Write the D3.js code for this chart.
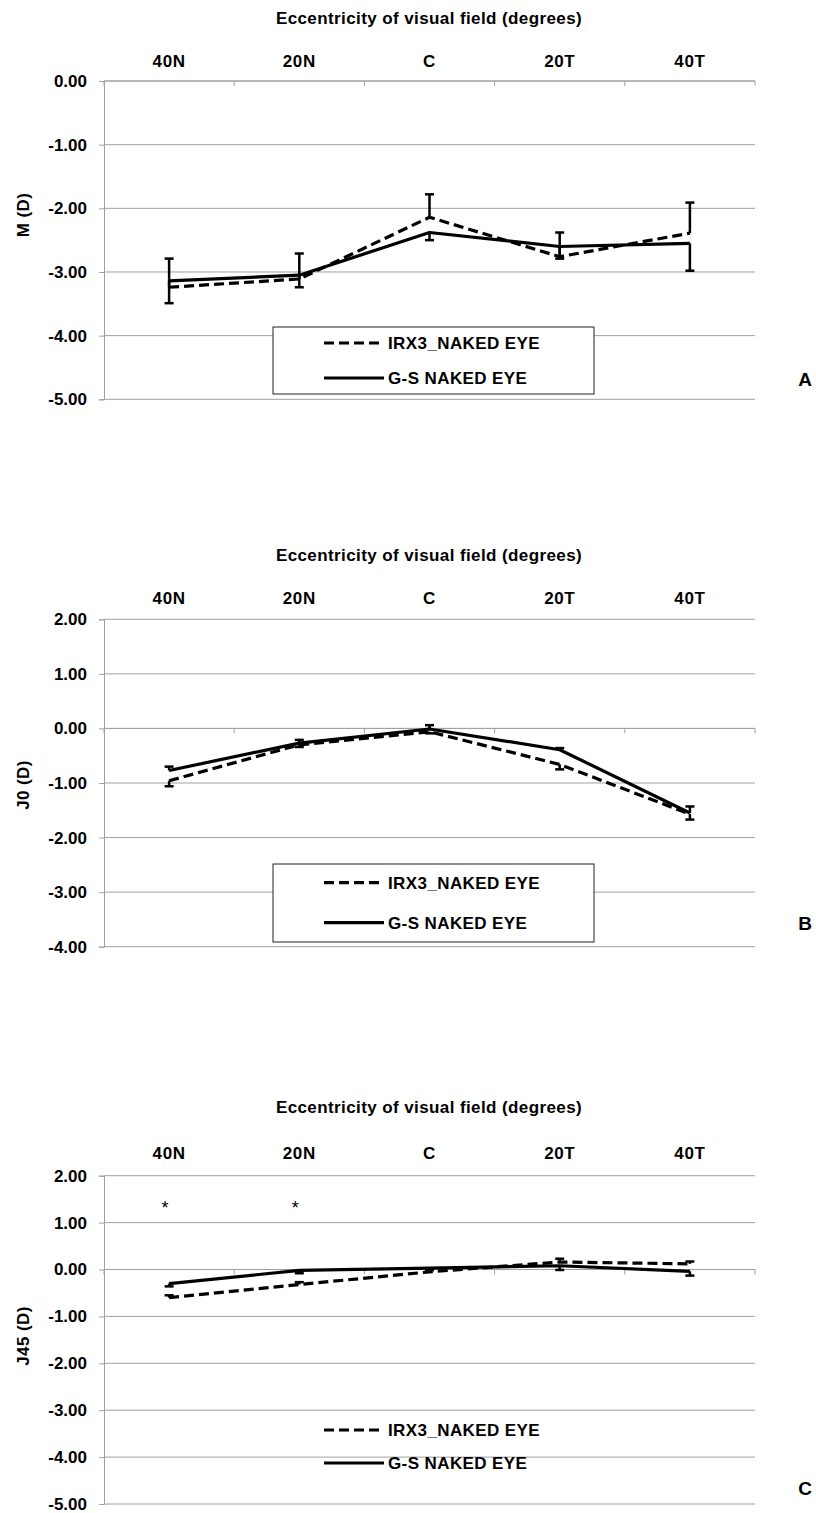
<!DOCTYPE html>
<html>
<head>
<meta charset="utf-8">
<script src="https://cdn.jsdelivr.net/npm/d3@7"></script>
<style>
  html, body { margin: 0; padding: 0; background: #fff; }
  svg text { font-family: "Liberation Sans", Arial, sans-serif; font-weight: bold; fill: #000; }
</style>
</head>
<body>
<svg id="chart" width="816" height="1513"></svg>
<script>
// Eccentricity positions across the visual field
const categories = ["40N", "20N", "C", "20T", "40T"];
const seriesNames = ["IRX3_NAKED EYE", "G-S NAKED EYE"];

// Panel A: spherical equivalent M (D)
const mIrx3 = [-3.24, -3.11, -2.14, -2.76, -2.39];
const mIrx3Err = [0.45, 0.40, 0.36, 0.38, 0.48];      // drawn upward
const mGs = [-3.14, -3.05, -2.38, -2.60, -2.55];
const mGsErr = [-0.35, -0.19, -0.12, -0.19, -0.43];   // drawn downward
const mTicks = [0, -1, -2, -3, -4, -5];

// Panel B: J0 (D)
const j0Irx3 = [-0.96, -0.30, -0.06, -0.66, -1.57];
const j0Irx3Err = [-0.10, -0.04, -0.03, -0.09, -0.10];
const j0Gs = [-0.77, -0.27, -0.01, -0.39, -1.55];
const j0GsErr = [0.07, 0.06, 0.07, 0.03, 0.12];
const j0Ticks = [2, 1, 0, -1, -2, -3, -4];

// Panel C: J45 (D)
const j45Irx3 = [-0.60, -0.32, -0.05, 0.16, 0.12];
const j45Irx3Err = [0.05, 0.05, 0.04, 0.07, 0.05];
const j45Gs = [-0.30, -0.02, 0.03, 0.08, -0.04];
const j45GsErr = [-0.06, -0.06, -0.04, -0.09, -0.09];
const j45Ticks = [2, 1, 0, -1, -2, -3, -4, -5];
const j45Marks = ["*", "*", "", "", ""];
const j45MarkValue = 1.18;

const svg = d3.select("#chart");
const X0 = 104, X1 = 755;
const GRID = "#a0a0a0";
const FONT = "Liberation Sans, Arial, sans-serif";

const x = d3.scaleBand().domain(categories).range([X0, X1]).padding(0);
const cx = c => x(c) + x.bandwidth() / 2;

const panels = [
  { letter: "A", yLabel: "M (D)", yLabelY: 215, ticks: mTicks, top: 81, bottom: 399.3,
    titleY: 18, catY: 61, letterY: 379, series: [[mIrx3, mIrx3Err], [mGs, mGsErr]],
    legend: { box: [273, 327, 321, 67], rows: [343, 378] } },
  { letter: "B", yLabel: "J0 (D)", yLabelY: 785, ticks: j0Ticks, top: 619.3, bottom: 946.7,
    titleY: 555, catY: 598, letterY: 923, series: [[j0Irx3, j0Irx3Err], [j0Gs, j0GsErr]],
    legend: { box: [273, 864, 321, 78], rows: [882.7, 922.7] } },
  { letter: "C", yLabel: "J45 (D)", yLabelY: 1336, ticks: j45Ticks, top: 1175.7, bottom: 1504,
    titleY: 1107, catY: 1153, letterY: 1488, series: [[j45Irx3, j45Irx3Err], [j45Gs, j45GsErr]],
    marks: j45Marks, markValue: j45MarkValue,
    legend: { box: null, rows: [1430, 1463] } }
];

const dashes = ["10,5", null];

panels.forEach(p => {
  const y = d3.scaleLinear()
    .domain([d3.min(p.ticks), d3.max(p.ticks)])
    .range([p.bottom, p.top]);
  const g = svg.append("g");

  // horizontal gridlines
  g.selectAll("line.grid").data(p.ticks).join("line")
    .attr("x1", X0).attr("x2", X1)
    .attr("y1", d => y(d)).attr("y2", d => y(d))
    .attr("stroke", GRID).attr("stroke-width", 1);

  // value axis
  const yAxis = d3.axisLeft(y).tickValues(p.ticks).tickSize(5).tickPadding(12)
    .tickFormat(d => d.toFixed(2));
  const ya = g.append("g").attr("transform", `translate(${X0},0)`).call(yAxis);
  ya.select(".domain").attr("stroke", GRID);
  ya.selectAll(".tick line").attr("stroke", GRID);
  ya.selectAll(".tick text").attr("font-size", 17)
    .style("font-family", FONT).style("font-weight", "bold");

  // category axis line at zero, tick marks at band edges
  const edges = categories.map(c => x(c)).concat([X1]);
  g.append("line").attr("x1", X0).attr("x2", X1).attr("y1", y(0)).attr("y2", y(0))
    .attr("stroke", GRID).attr("stroke-width", 1);
  g.selectAll("line.xtick").data(edges).join("line")
    .attr("x1", d => d).attr("x2", d => d)
    .attr("y1", y(0)).attr("y2", y(0) + 5)
    .attr("stroke", GRID).attr("stroke-width", 1);

  // category labels above the plot
  const xAxis = d3.axisTop(x).tickSize(0).tickPadding(0);
  const xa = g.append("g").attr("transform", `translate(0,${p.catY + 6})`).call(xAxis);
  xa.select(".domain").remove();
  xa.selectAll(".tick text").attr("font-size", 17).attr("dy", 0)
    .style("letter-spacing", "0.6px")
    .style("font-family", FONT).style("font-weight", "bold");

  // axis titles
  g.append("text").attr("x", 429).attr("y", p.titleY + 6).attr("text-anchor", "middle")
    .attr("font-size", 17).style("letter-spacing", "0.4px")
    .text("Eccentricity of visual field (degrees)");
  g.append("text").attr("transform", `translate(29,${p.yLabelY}) rotate(-90)`)
    .attr("text-anchor", "middle").attr("font-size", 17).style("letter-spacing", "0.4px")
    .text(p.yLabel);

  // panel letter
  g.append("text").attr("x", 805).attr("y", p.letterY + 7).attr("text-anchor", "middle")
    .attr("font-size", 19).text(p.letter);

  // series lines
  const line = d3.line().x((d, i) => cx(categories[i])).y(d => y(d));
  p.series.forEach(([vals, errs], si) => {
    g.append("path").datum(vals).attr("d", line)
      .attr("fill", "none").attr("stroke", "#000").attr("stroke-width", 3.2)
      .attr("stroke-linejoin", "round")
      .attr("stroke-dasharray", dashes[si]);

    // one-sided error bars with end caps
    const eb = g.append("g");
    vals.forEach((v, i) => {
      const xc = cx(categories[i]);
      eb.append("line").attr("x1", xc).attr("x2", xc)
        .attr("y1", y(v)).attr("y2", y(v + errs[i]))
        .attr("stroke", "#000").attr("stroke-width", 2.5);
      eb.append("line").attr("x1", xc - 4.5).attr("x2", xc + 4.5)
        .attr("y1", y(v + errs[i])).attr("y2", y(v + errs[i]))
        .attr("stroke", "#000").attr("stroke-width", 2.5);
    });
  });

  // significance markers
  if (p.marks) {
    g.selectAll("text.mark").data(p.marks).join("text")
      .attr("x", (d, i) => cx(categories[i]) - 4).attr("y", y(p.markValue))
      .attr("text-anchor", "middle").attr("font-size", 18).style("font-weight", "normal")
      .text(d => d);
  }

  // legend
  const lg = g.append("g");
  if (p.legend.box) {
    const [bx, by, bw, bh] = p.legend.box;
    lg.append("rect").attr("x", bx).attr("y", by).attr("width", bw).attr("height", bh)
      .attr("fill", "#fff").attr("stroke", "#222").attr("stroke-width", 1);
  }
  seriesNames.forEach((name, si) => {
    const ry = p.legend.rows[si];
    lg.append("line").attr("x1", 324).attr("x2", 384).attr("y1", ry).attr("y2", ry)
      .attr("stroke", "#000").attr("stroke-width", 3.2).attr("stroke-dasharray", dashes[si]);
    lg.append("text").attr("x", 388).attr("y", ry + 6).attr("font-size", 17)
      .style("letter-spacing", "0.4px").text(name);
  });
});
</script>
</body>
</html>
